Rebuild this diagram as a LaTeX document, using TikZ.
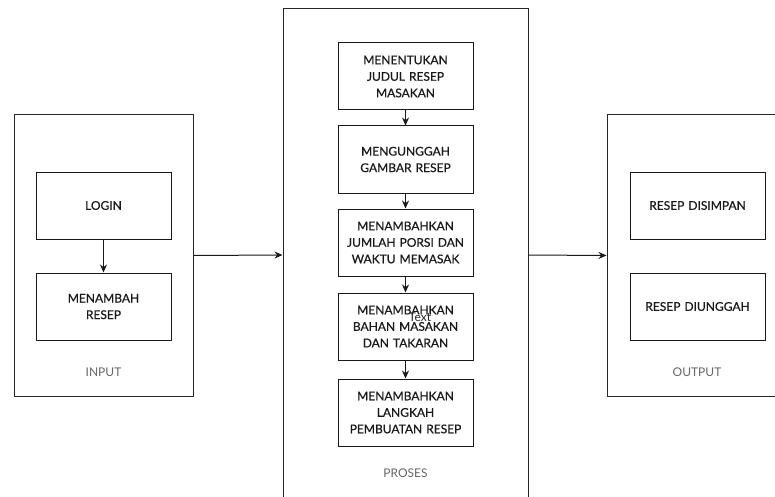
\documentclass[tikz,border=0pt]{standalone}
\usepackage{fontspec}
\setmainfont{Lato}
\newfontfamily\boxfont{Lato}[FakeBold=0.6]
\usetikzlibrary{arrows.meta}
\begin{document}
\begin{tikzpicture}[x=1pt,y=-1pt,
  every node/.style={font=\fontsize{12}{16.5}\selectfont},
  group/.style={draw=black!85,line width=1pt,rectangle,inner sep=0pt},
  stepbox/.style={draw=black!90,line width=1pt,rectangle,inner sep=1pt,
    minimum width=135,minimum height=67,align=center,text width=133,text=black!90,
    font=\boxfont\fontsize{12}{16.5}\selectfont},
  caption/.style={text=black!60},
  flow/.style={line width=1pt,draw=black!90,-{Stealth[length=8pt,width=7pt]}}]
\useasboundingbox (0,0) rectangle (775,497);
\begin{scope}
\clip (0,0) rectangle (775,497);
% outer groups
\node[group,minimum width=179,minimum height=281] (inbox) at (103.5,255.5) {};
\node[group,minimum width=245,minimum height=492] (procbox) at (405.5,255) {};
\node[group,minimum width=179,minimum height=281] (outbox) at (696.5,255.5) {};
\end{scope}
% input steps
\node[stepbox] (login) at (103.5,205.5) {LOGIN};
\node[stepbox] (tambah) at (103.5,306.5) {MENAMBAH\\RESEP};
\node[caption] (inlbl) at (103.5,372) {INPUT};
% process steps
\node[stepbox] (p1) at (405.5,76.5) {MENENTUKAN\\JUDUL RESEP\\MASAKAN};
\node[stepbox] (p2) at (405.5,159.5) {MENGUNGGAH\\GAMBAR RESEP};
\node[stepbox] (p3) at (405.5,242.5) {MENAMBAHKAN\\JUMLAH PORSI DAN\\WAKTU MEMASAK};
\node[stepbox] (p4) at (405.5,326.5) {MENAMBAHKAN\\BAHAN MASAKAN\\DAN TAKARAN};
\node[stepbox] (p5) at (405.5,412.5) {MENAMBAHKAN\\LANGKAH\\PEMBUATAN RESEP};
\node[text=black!85] (stray) at (420,317) {Text};
\node[caption] (proclbl) at (405.5,473) {PROSES};
% output steps
\node[stepbox] (simpan) at (697.5,205.5) {RESEP DISIMPAN};
\node[stepbox] (unggah) at (697.5,306.5) {RESEP DIUNGGAH};
\node[caption] (outlbl) at (697,372) {OUTPUT};
% connectors
\draw[flow] (login) -- (tambah);
\draw[flow] (p1) -- (p2);
\draw[flow] (p2) -- (p3);
\draw[flow] (p3) -- (p4);
\draw[flow] (p4) -- (p5);
\draw[flow] (inbox.east) -- (procbox.west);
\draw[flow] (procbox.east) -- (outbox.west);
\end{tikzpicture}
\end{document}
